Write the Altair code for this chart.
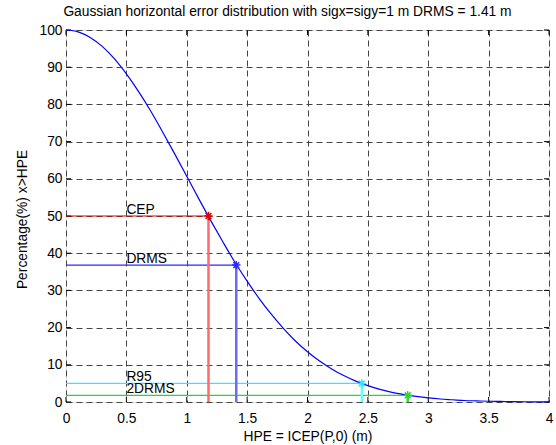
import altair as alt
import pandas as pd

# ---- data ----
hpe = [0.0, 0.1, 0.2, 0.3, 0.4, 0.5, 0.6, 0.7, 0.8, 0.9, 1.0, 1.1, 1.2, 1.3, 1.4,
       1.5, 1.6, 1.7, 1.8, 1.9, 2.0, 2.1, 2.2, 2.3, 2.4, 2.5, 2.6, 2.7, 2.8, 2.9,
       3.0, 3.1, 3.2, 3.3, 3.4, 3.5, 3.6, 3.7, 3.8, 3.9, 4.0]
pct = [100.0, 99.5, 98.0, 95.6, 92.3, 88.2, 83.5, 78.3, 72.6, 66.7, 60.7, 54.6, 48.7,
       43.0, 37.5, 32.5, 27.8, 23.6, 19.8, 16.4, 13.5, 11.0, 8.9, 7.1, 5.6, 4.4, 3.4,
       2.6, 2.0, 1.5, 1.1, 0.8, 0.6, 0.4, 0.3, 0.2, 0.15, 0.1, 0.07, 0.05, 0.03]

marker_names = ["CEP", "DRMS", "R95", "2DRMS"]
marker_x = [1.18, 1.41, 2.45, 2.83]
marker_y = [50.0, 36.8, 5.0, 1.8]
label_x = [0.5, 0.5, 0.5, 0.5]
label_y = [50.0, 36.8, 5.0, 1.8]
h_colors = ["#e00000", "#2a2aff", "#33e6ff", "#22dd22"]
v_colors = ["#ff6a6a", "#6a6aff", "#66ffff", "#22ee22"]

x_ticks = [0, 0.5, 1, 1.5, 2, 2.5, 3, 3.5, 4]
y_ticks = [0, 10, 20, 30, 40, 50, 60, 70, 80, 90, 100]

title = "Gaussian horizontal error distribution with sigx=sigy=1 m DRMS = 1.41 m"
x_title = "HPE = ICEP(P,0) (m)"
y_title = "Percentage(%) x>HPE"

W, H = 483, 372
FONT = "Liberation Sans"
FS = 13.8

curve = pd.DataFrame({"x": hpe, "y": pct})
marks = pd.DataFrame({"name": marker_names, "x": marker_x, "y": marker_y,
                      "x0": [0.0] * 4, "y0": [0.0] * 4,
                      "lx": label_x, "ly": label_y})
xt = pd.DataFrame({"x": x_ticks})
yt = pd.DataFrame({"y": y_ticks})

xs = alt.Scale(domain=[0, 4], nice=False, zero=False)
ys = alt.Scale(domain=[0, 100], nice=False, zero=False)

xaxis = alt.Axis(values=x_ticks, format="~g", title=x_title, grid=True,
                 gridDash=[6, 4], gridColor="#444", gridOpacity=1, gridWidth=1,
                 domain=False, ticks=False, labelPadding=9, labelFont=FONT,
                 labelFontSize=FS, labelColor="black", titleFont=FONT,
                 titleFontSize=FS, titleFontWeight="normal", titleColor="black",
                 titleY=34, titleBaseline="middle", labelFlush=False)
yaxis = alt.Axis(values=y_ticks, format="d", title=y_title, grid=True,
                 gridDash=[6, 4], gridColor="#444", gridOpacity=1, gridWidth=1,
                 domain=False, ticks=False, labelPadding=4, labelFont=FONT,
                 labelFontSize=FS, labelColor="black", titleFont=FONT,
                 titleFontSize=FS, titleFontWeight="normal", titleColor="black",
                 titleX=-44, titleY=189, titleBaseline="middle", titleAlign="center",
                 labelFlush=False)

hcol = alt.Color("name:N", scale=alt.Scale(domain=marker_names, range=h_colors), legend=None)
vcol = alt.Stroke("name:N", scale=alt.Scale(domain=marker_names, range=v_colors), legend=None)

base_curve = alt.Chart(curve).mark_line(color="#0000ff", strokeWidth=1.2,
                                         interpolate="monotone").encode(
    x=alt.X("x:Q", scale=xs, axis=xaxis),
    y=alt.Y("y:Q", scale=ys, axis=yaxis),
)

hlines = alt.Chart(marks).mark_rule(strokeWidth=1.2).encode(
    x=alt.X("x0:Q", scale=xs, axis=xaxis), x2="x:Q",
    y=alt.Y("y:Q", scale=ys, axis=yaxis), color=hcol)

vlines = alt.Chart(marks).mark_rule(strokeWidth=2.5).encode(
    x=alt.X("x:Q", scale=xs, axis=xaxis),
    y=alt.Y("y0:Q", scale=ys, axis=yaxis), y2="y:Q", stroke=vcol)

star = "M0,-1L0,1M-1,0L1,0M-0.7,-0.7L0.7,0.7M-0.7,0.7L0.7,-0.7"
points = alt.Chart(marks).mark_point(shape=star, size=70, filled=False,
                                     strokeWidth=1.5, opacity=1).encode(
    x=alt.X("x:Q", scale=xs, axis=xaxis),
    y=alt.Y("y:Q", scale=ys, axis=yaxis), color=hcol)

labels = alt.Chart(marks).mark_text(align="left", baseline="alphabetic", dy=-2,
                                    font=FONT, fontSize=FS, color="black").encode(
    x=alt.X("lx:Q", scale=xs, axis=xaxis),
    y=alt.Y("ly:Q", scale=ys, axis=yaxis), text="name:N")

tick_style = dict(color="black", strokeWidth=1)
xt_bot = alt.Chart(xt).mark_rule(**tick_style).encode(
    x=alt.X("x:Q", scale=xs, axis=xaxis), y=alt.value(H), y2=alt.value(H - 5))
xt_top = alt.Chart(xt).mark_rule(**tick_style).encode(
    x=alt.X("x:Q", scale=xs, axis=xaxis), y=alt.value(0), y2=alt.value(5))
yt_left = alt.Chart(yt).mark_rule(**tick_style).encode(
    y=alt.Y("y:Q", scale=ys, axis=yaxis), x=alt.value(0), x2=alt.value(5))
yt_right = alt.Chart(yt).mark_rule(**tick_style).encode(
    y=alt.Y("y:Q", scale=ys, axis=yaxis), x=alt.value(W), x2=alt.value(W - 5))

chart = alt.layer(
    xt_bot, xt_top, yt_left, yt_right,
    hlines, vlines, base_curve, points, labels,
).properties(
    width=W, height=H,
    title=alt.TitleParams(title, font=FONT, fontSize=FS, fontWeight="normal",
                          color="black", anchor="middle", dx=-20, offset=4),
    autosize=alt.AutoSizeParams(type="none"),
    padding={"left": 66, "top": 30, "right": 7, "bottom": 43},
).configure_view(stroke="black", strokeWidth=1).configure(background="white")

chart.save("out.html", embed_options={"renderer": "svg", "actions": False})
